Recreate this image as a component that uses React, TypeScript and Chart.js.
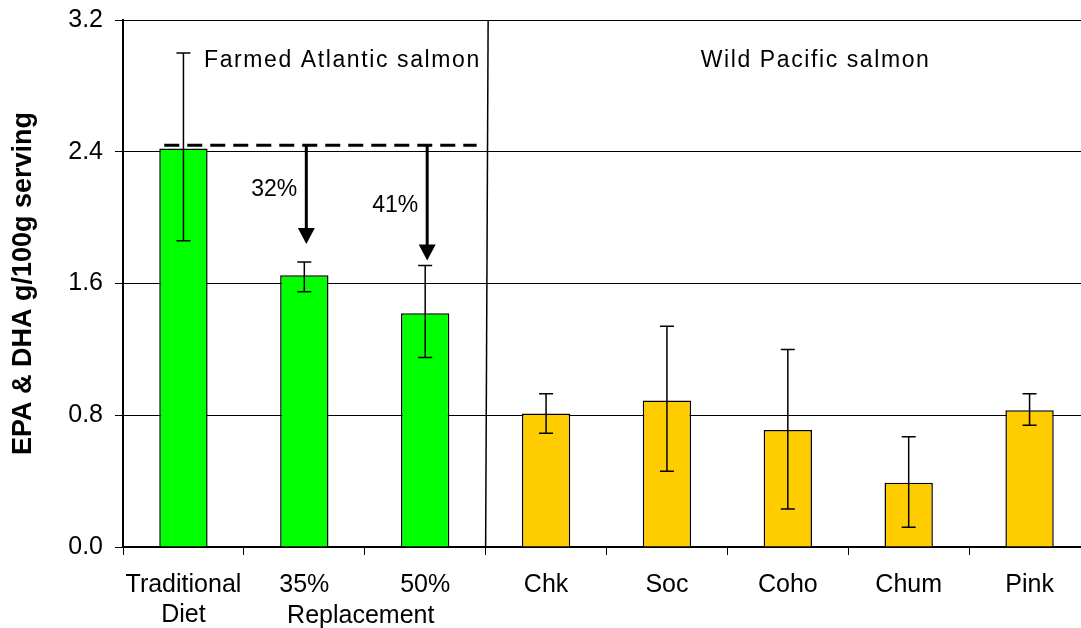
import React, { useEffect, useRef } from "react";
import { Chart, registerables } from "chart.js";

Chart.register(...registerables);

// ---- data ----
const categories: (string | string[])[] = [
  ["Traditional", "Diet"],
  "35%",
  "50%",
  "Chk",
  "Soc",
  "Coho",
  "Chum",
  "Pink",
];
const values = [2.42, 1.65, 1.42, 0.81, 0.89, 0.71, 0.39, 0.83];
const errHigh = [3.0, 1.73, 1.71, 0.93, 1.34, 1.2, 0.67, 0.93];
const errLow = [1.86, 1.55, 1.15, 0.69, 0.46, 0.23, 0.12, 0.74];
const groups = ["farmed", "farmed", "farmed", "wild", "wild", "wild", "wild", "wild"];
const groupColors: Record<string, string> = { farmed: "#00FF00", wild: "#FFCC00" };
const groupTitles = ["Farmed Atlantic salmon", "Wild Pacific salmon"];
const replacementLabel = "Replacement";
const yAxisTitle = "EPA & DHA g/100g serving";
const yMin = 0;
const yMax = 3.2;
const yStep = 0.8;
const referenceLevel = 2.44;
const arrowBars = [1, 2];
const arrowTips = [1.84, 1.74];
const pctLabels = ["32%", "41%"];
const pctLabelLevels = [2.17, 2.07];

const FONT = "'Liberation Sans', Arial, sans-serif";

const overlayPlugin = {
  id: "overlay",
  afterDatasetsDraw(chart: any) {
    const { ctx, chartArea, scales } = chart;
    const x = scales.x;
    const y = scales.y;
    const meta = chart.getDatasetMeta(0);
    ctx.save();

    // error bars
    ctx.strokeStyle = "#000";
    ctx.lineWidth = 1.5;
    const cap = 7;
    values.forEach((_, i) => {
      const cx = meta.data[i].x;
      const yt = y.getPixelForValue(errHigh[i]);
      const yb = y.getPixelForValue(errLow[i]);
      ctx.beginPath();
      ctx.moveTo(cx, yt);
      ctx.lineTo(cx, yb);
      ctx.moveTo(cx - cap, yt);
      ctx.lineTo(cx + cap, yt);
      ctx.moveTo(cx - cap, yb);
      ctx.lineTo(cx + cap, yb);
      ctx.stroke();
    });

    // group divider
    const divX = (x.getPixelForValue(2) + x.getPixelForValue(3)) / 2;
    ctx.lineWidth = 1.5;
    ctx.beginPath();
    ctx.moveTo(divX + 2.5, chartArea.top);
    ctx.lineTo(divX, chartArea.bottom);
    ctx.stroke();

    // reference dashed line
    const bar0 = meta.data[0];
    const refY = y.getPixelForValue(referenceLevel);
    ctx.lineWidth = 3;
    ctx.setLineDash([15, 8]);
    ctx.beginPath();
    ctx.moveTo(bar0.x - bar0.width / 2 + 5, refY);
    ctx.lineTo(divX - 9, refY);
    ctx.stroke();
    ctx.setLineDash([]);

    // arrows + percentage labels
    arrowBars.forEach((bi, k) => {
      const ax = meta.data[bi].x + 2;
      const tipY = y.getPixelForValue(arrowTips[k]);
      const headH = 16;
      const headW = 8.5;
      ctx.lineWidth = 3;
      ctx.beginPath();
      ctx.moveTo(ax, refY);
      ctx.lineTo(ax, tipY - headH + 1);
      ctx.stroke();
      ctx.fillStyle = "#000";
      ctx.beginPath();
      ctx.moveTo(ax - headW, tipY - headH);
      ctx.lineTo(ax + headW, tipY - headH);
      ctx.lineTo(ax, tipY);
      ctx.closePath();
      ctx.fill();

      ctx.font = `23px ${FONT}`;
      ctx.textAlign = "right";
      ctx.textBaseline = "middle";
      ctx.fillText(pctLabels[k], ax - 9, y.getPixelForValue(pctLabelLevels[k]));
    });

    // group titles
    ctx.fillStyle = "#000";
    ctx.font = `23px ${FONT}`;
    (ctx as any).letterSpacing = "1.6px";
    ctx.textBaseline = "middle";
    const titleY = chartArea.top + 41;
    ctx.textAlign = "left";
    ctx.fillText(groupTitles[0], x.getPixelForValue(0.17), titleY);
    ctx.textAlign = "center";
    ctx.fillText(groupTitles[1], x.getPixelForValue(5.23), titleY);
    (ctx as any).letterSpacing = "0px";

    // "Replacement" under 35% / 50%
    ctx.font = `25px ${FONT}`;
    ctx.textAlign = "center";
    ctx.textBaseline = "middle";
    const repX = (x.getPixelForValue(1) + x.getPixelForValue(2)) / 2 - 4;
    ctx.fillText(replacementLabel, repX, chartArea.bottom + 69);

    ctx.restore();
  },
};

export default function App() {
  const canvasRef = useRef<HTMLCanvasElement | null>(null);

  useEffect(() => {
    document.body.style.margin = "0";
    const canvas = canvasRef.current;
    if (!canvas) return;
    const chart = new Chart(canvas, {
      type: "bar",
      data: {
        labels: categories as any,
        datasets: [
          {
            data: values,
            backgroundColor: groups.map((g) => groupColors[g]),
            borderColor: "#000",
            borderWidth: 1.5,
            barPercentage: 0.4,
            categoryPercentage: 1.0,
          },
        ],
      },
      options: {
        responsive: false,
        animation: false,
        devicePixelRatio: 1,
        layout: { padding: { top: 20, right: 10, left: 0, bottom: 0 } },
        plugins: {
          legend: { display: false },
          tooltip: { enabled: false },
        },
        scales: {
          x: {
            offset: true,
            afterFit: (s: any) => {
              s.height = 81;
              s.paddingLeft = 0;
              s.paddingRight = 0;
            },
            grid: {
              display: true,
              drawOnChartArea: false,
              drawTicks: true,
              tickLength: 8,
              offset: true,
              color: "#000",
              lineWidth: 1,
            },
            border: { display: true, color: "#000", width: 2 },
            ticks: {
              color: "#000",
              font: { family: FONT, size: 25, lineHeight: 1.2 },
              padding: 15,
              maxRotation: 0,
              autoSkip: false,
            },
          },
          y: {
            min: yMin,
            max: yMax,
            afterFit: (s: any) => {
              s.width = 123;
              s.paddingTop = 0;
              s.paddingBottom = 0;
            },
            grid: {
              color: "#000",
              lineWidth: 1,
              tickLength: 8,
              drawTicks: true,
            },
            border: { display: true, color: "#000", width: 2 },
            ticks: {
              stepSize: yStep,
              color: "#000",
              font: { family: FONT, size: 25 },
              padding: 12,
              callback: (v: any) => Number(v).toFixed(1),
            },
            title: {
              display: true,
              text: yAxisTitle,
              color: "#000",
              font: { family: FONT, size: 27, weight: "bold" },
              padding: { top: 7, bottom: 0 },
            },
          },
        },
      },
      plugins: [overlayPlugin],
    });
    return () => chart.destroy();
  }, []);

  return (
    <div style={{ width: 1081, height: 628, overflow: "hidden", position: "relative", background: "#fff" }}>
      <canvas ref={canvasRef} width={1100} height={628} style={{ display: "block" }} />
    </div>
  );
}
